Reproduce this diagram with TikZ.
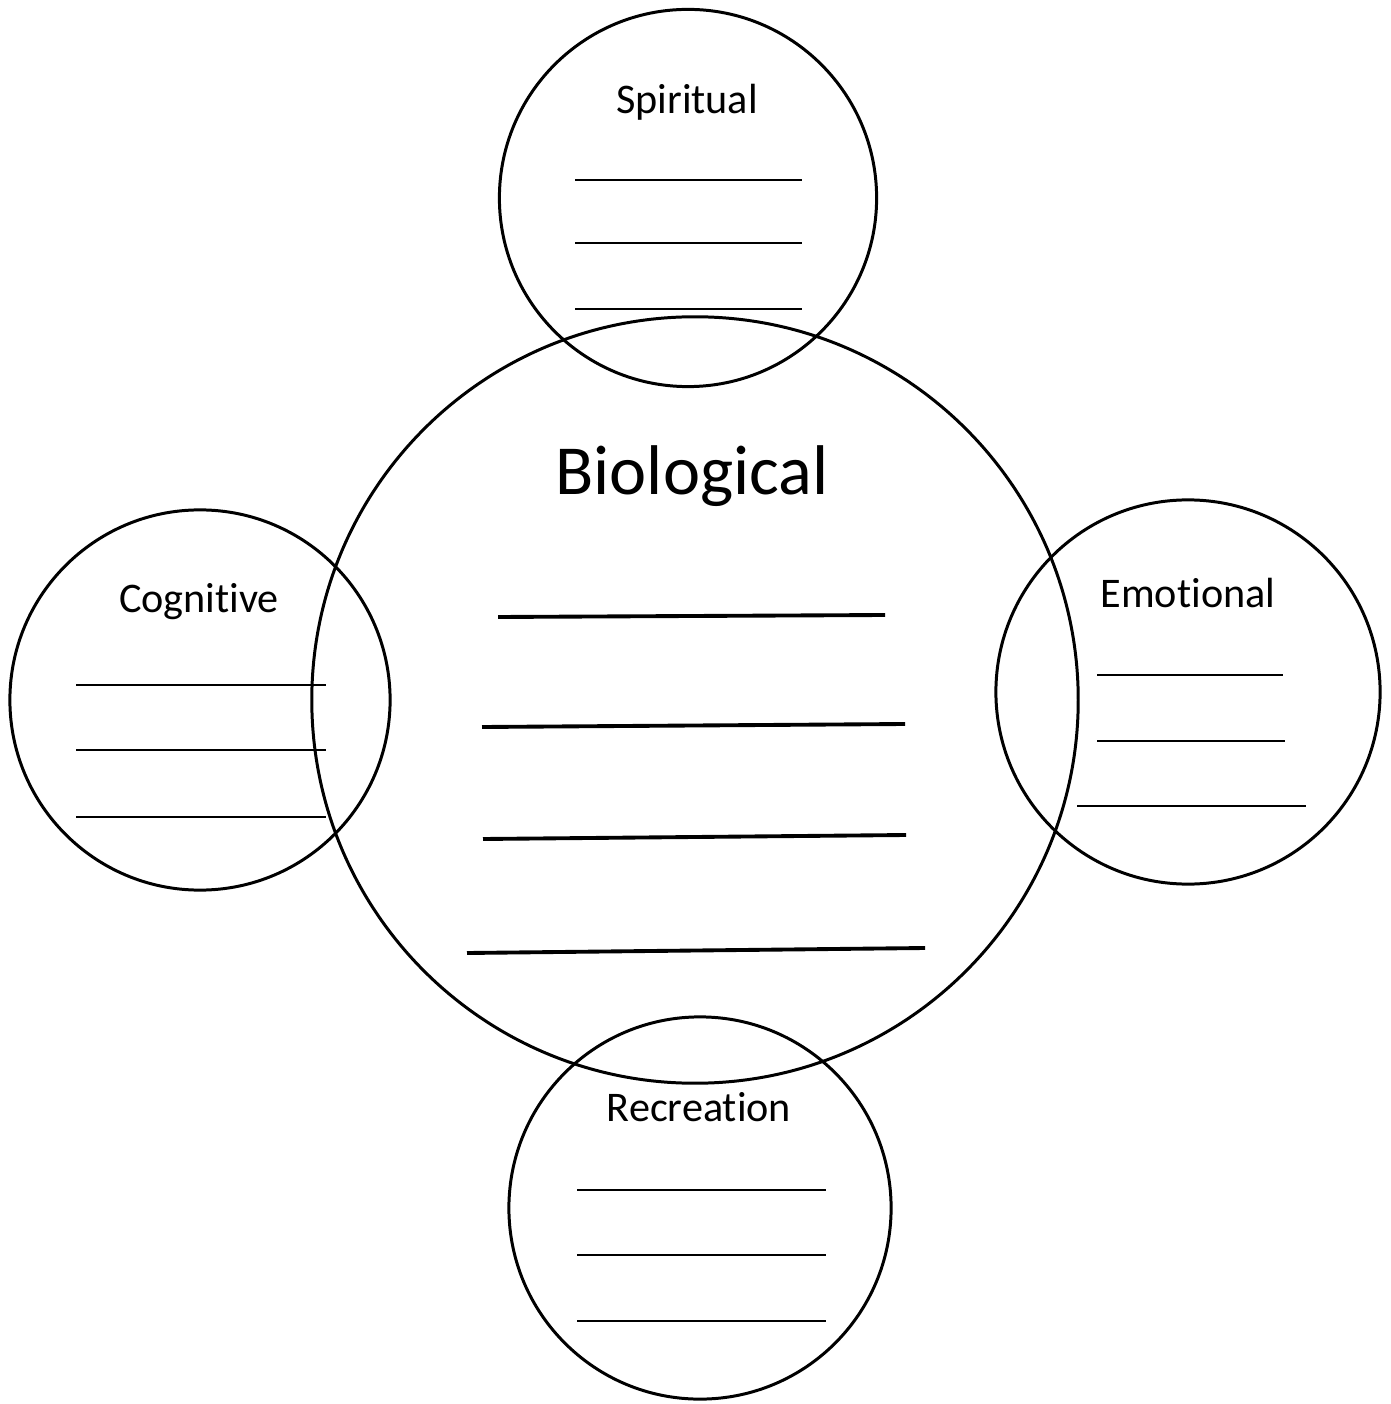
\documentclass[tikz,border=0pt]{standalone}
\usepackage{fontspec}
\setmainfont{Carlito}[Ligatures=CommonOff]
\usetikzlibrary{positioning}
\tikzset{area circle/.style={draw=black, circle, line width=0.85pt, inner sep=0pt}}
\tikzset{area label/.style={font=\fontsize{12}{14}\selectfont}}
\tikzset{blank line/.style={line width=0.6pt}}
\tikzset{big blank line/.style={line width=1.1pt}}

\begin{document}
\begin{tikzpicture}[x=0.01cm, y=-0.01cm, semithick]
  \useasboundingbox (0,0) rectangle (1390,1404);
  % circles
  \node[area circle, minimum size=7.66cm] at (695,700) (bio) {};
  \node[area circle, minimum size=3.77cm] at (688,198) (spi) {};
  \node[area circle, minimum size=3.80cm] at (200,700) (cog) {};
  \node[area circle, minimum size=3.84cm] at (1188,692) (emo) {};
  \node[area circle, minimum size=3.82cm] at (700,1208) (rec) {};
  % labels
  \node[area label] at (687,102) (spi_l) {Spiritual};
  \node[font=\fontsize{20}{24}\selectfont] at (692,476) (bio_l) {Biological};
  \node[area label] at (199,602) (cog_l) {Cognitive};
  \node[area label] at (1188,593) (emo_l) {Emotional};
  \node[area label] at (699,1107) (rec_l) {Recreation};
  % blank lines
  \foreach \y in {180,243,309} \draw[blank line] (575,\y) -- (802,\y);
  \foreach \y in {685,750,817} \draw[blank line] (76,\y) -- (326,\y);
  \draw[blank line] (1097,675) -- (1283,675);
  \draw[blank line] (1097,741) -- (1285,741);
  \draw[blank line] (1077,806) -- (1306,806);
  \foreach \y in {1190,1255,1321} \draw[blank line] (577,\y) -- (826,\y);
  \draw[big blank line] (498,617) -- (885,615);
  \draw[big blank line] (482,727) -- (905,724);
  \draw[big blank line] (483,839) -- (906,835);
  \draw[big blank line] (467,953) -- (925,948);
\end{tikzpicture}
\end{document}
